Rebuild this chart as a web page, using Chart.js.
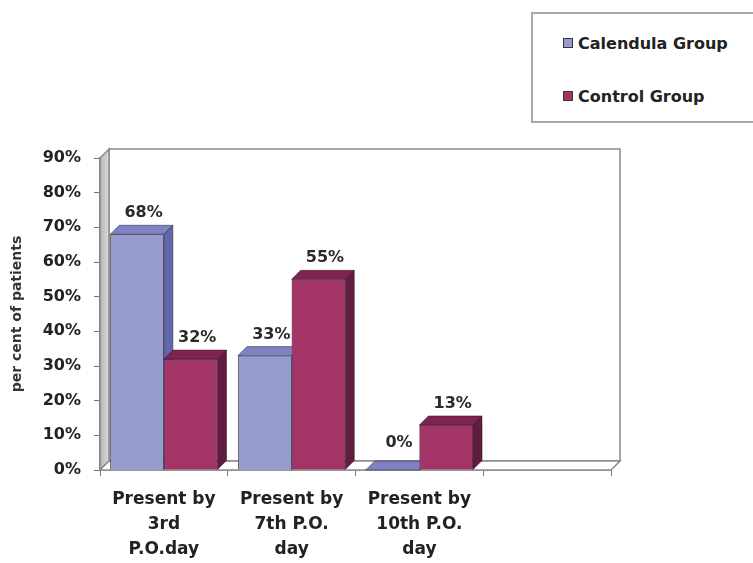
<!DOCTYPE html>
<html>
<head>
<meta charset="utf-8">
<script src="https://cdn.jsdelivr.net/npm/chart.js@4.4.0/dist/chart.umd.min.js"></script>
<style>
  body { margin: 0; background: #fff; }
  #wrap { position: relative; width: 753px; height: 563px; overflow: hidden; }
  #legend { position: absolute; left: 531px; top: 12px; width: 240px; height: 107px;
            border: 2px solid #a8a8a8; background: #fff;
            font: bold 16px "DejaVu Sans", Verdana, sans-serif; color: #222; }
  .item { position: absolute; left: 30px; white-space: nowrap; }
  .sw { display: inline-block; width: 8px; height: 8px; border: 1px solid #333; margin-right: 5px; vertical-align: 1px; }
</style>
</head>
<body>
<div id="wrap">
  <canvas id="myChart" width="753" height="563"></canvas>
  <div id="legend"></div>
</div>
<script>
'use strict';

// data
let categories = [
  ['Present by', '3rd', 'P.O.day'],
  ['Present by', '7th P.O.', 'day'],
  ['Present by', '10th P.O.', 'day'],
  ''
];
let seriesNames = ['Calendula Group', 'Control Group'];
let calendula = [68, 33, 0, null];
let control = [32, 55, 13, null];
let yTicks = [0, 10, 20, 30, 40, 50, 60, 70, 80, 90];

// front / top / side colours for each series
let faces = [
  { front: '#969ccd', top: '#7d82c2', side: '#6267aa' },
  { front: '#a23566', top: '#7f2450', side: '#621c3f' }
];

let depth = 9;
let font = '"DejaVu Sans", Verdana, sans-serif';

// legend box
let legend = document.getElementById('legend');
for (let i = 0; i < seriesNames.length; i++) {
  let div = document.createElement('div');
  div.className = 'item';
  div.style.top = (i === 0 ? 20 : 73) + 'px';
  div.innerHTML = '<span class="sw" style="background:' + faces[i].front + '"></span>' + seriesNames[i];
  legend.appendChild(div);
}

// walls and floor behind the bars, then the 3d faces on top
let frame3d = {
  id: 'frame3d',
  beforeDatasetsDraw(chart) {
    let ctx = chart.ctx;
    let a = chart.chartArea;
    ctx.save();
    ctx.lineWidth = 1.5;
    ctx.strokeStyle = '#8a8a8a';
    // back wall
    ctx.fillStyle = '#fff';
    ctx.beginPath();
    ctx.rect(a.left + depth, a.top - depth, a.right - a.left, a.bottom - a.top);
    ctx.fill();
    ctx.stroke();
    // left wall
    let g = ctx.createLinearGradient(a.left, 0, a.left + depth, 0);
    g.addColorStop(0, '#b5b5b5');
    g.addColorStop(1, '#dcdcdc');
    ctx.fillStyle = g;
    ctx.beginPath();
    ctx.moveTo(a.left, a.bottom);
    ctx.lineTo(a.left, a.top);
    ctx.lineTo(a.left + depth, a.top - depth);
    ctx.lineTo(a.left + depth, a.bottom - depth);
    ctx.closePath();
    ctx.fill();
    ctx.stroke();
    // floor
    ctx.fillStyle = '#fff';
    ctx.beginPath();
    ctx.moveTo(a.left, a.bottom);
    ctx.lineTo(a.left + depth, a.bottom - depth);
    ctx.lineTo(a.right + depth, a.bottom - depth);
    ctx.lineTo(a.right, a.bottom);
    ctx.closePath();
    ctx.fill();
    ctx.stroke();
    ctx.restore();
  },
  afterDatasetsDraw(chart) {
    let ctx = chart.ctx;
    let n = chart.data.labels.length;
    ctx.save();
    for (let i = 0; i < n; i++) {
      for (let d = 0; d < chart.data.datasets.length; d++) {
        let v = chart.data.datasets[d].data[i];
        if (v === null) continue;
        let bar = chart.getDatasetMeta(d).data[i];
        let p = bar.getProps(['x', 'y', 'base', 'width'], true);
        let l = p.x - p.width / 2, r = p.x + p.width / 2;
        let t = p.y, b = p.base;
        bar.draw(ctx);
        ctx.lineWidth = 0.8;
        ctx.strokeStyle = 'rgba(40,20,40,0.6)';
        // top face
        ctx.fillStyle = faces[d].top;
        ctx.beginPath();
        ctx.moveTo(l, t);
        ctx.lineTo(l + depth, t - depth);
        ctx.lineTo(r + depth, t - depth);
        ctx.lineTo(r, t);
        ctx.closePath();
        ctx.fill();
        ctx.stroke();
        // side face
        ctx.fillStyle = faces[d].side;
        ctx.beginPath();
        ctx.moveTo(r, t);
        ctx.lineTo(r + depth, t - depth);
        ctx.lineTo(r + depth, b - depth);
        ctx.lineTo(r, b);
        ctx.closePath();
        ctx.fill();
        ctx.stroke();
        // value label
        ctx.fillStyle = '#2a2a2a';
        ctx.font = 'bold 16px ' + font;
        ctx.textAlign = 'center';
        ctx.textBaseline = 'alphabetic';
        let lift = v === 0 ? 14 : 8;
        ctx.fillText(v + '%', p.x + depth / 2 + 2, t - depth - lift);
      }
    }
    ctx.restore();
  }
};

let ctx = document.getElementById('myChart').getContext('2d');
let myChart = new Chart(ctx, {
  type: 'bar',
  data: {
    labels: categories,
    datasets: [
      {
        label: seriesNames[0],
        data: calendula,
        backgroundColor: faces[0].front,
        borderColor: 'rgba(40,20,40,0.6)',
        borderWidth: 0.8
      },
      {
        label: seriesNames[1],
        data: control,
        backgroundColor: faces[1].front,
        borderColor: 'rgba(40,20,40,0.6)',
        borderWidth: 0.8
      }
    ]
  },
  options: {
    responsive: false,
    animation: false,
    events: [],
    datasets: { bar: { categoryPercentage: 0.84, barPercentage: 1.0 } },
    layout: { padding: { top: 158, right: 142, left: 0, bottom: 0 } },
    plugins: { legend: { display: false }, tooltip: { enabled: false } },
    scales: {
      x: {
        afterFit: function (s) { s.height = 93; },
        grid: { display: true, offset: true, drawOnChartArea: false, drawTicks: true, tickLength: 6, color: '#777' },
        border: { display: true, color: '#777', width: 1.5 },
        ticks: {
          color: '#222',
          padding: 11,
          maxRotation: 0,
          autoSkip: false,
          font: { family: font, size: 17, weight: 'bold', lineHeight: '25px' }
        }
      },
      y: {
        min: 0,
        max: 90,
        afterFit: function (s) { s.width = 100; },
        afterBuildTicks: function (s) { s.ticks = yTicks.map(function (v) { return { value: v }; }); },
        grid: { display: true, drawOnChartArea: false, drawTicks: true, tickLength: 6, color: '#777' },
        border: { display: true, color: '#777', width: 1.5 },
        ticks: {
          color: '#222',
          padding: 13,
          font: { family: font, size: 16, weight: 'bold' },
          callback: function (v) { return v + '%'; }
        },
        title: {
          display: true,
          text: 'per cent of patients',
          color: '#333',
          padding: { top: 9, bottom: 0 },
          font: { family: font, size: 14, weight: 'bold' }
        }
      }
    }
  },
  plugins: [frame3d]
});
</script>
</body>
</html>
